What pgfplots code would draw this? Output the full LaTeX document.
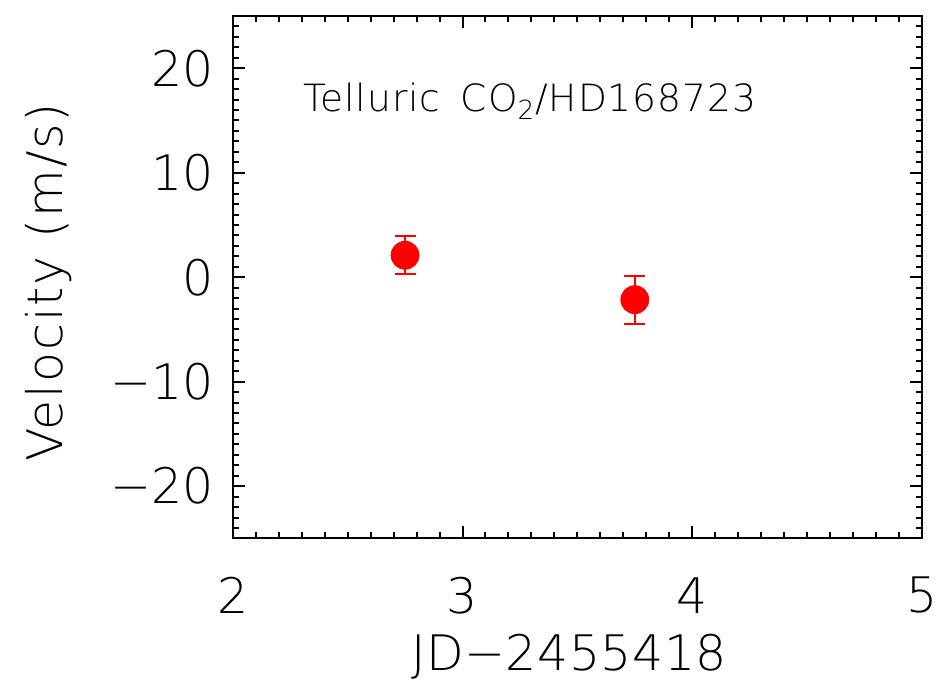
\documentclass[border=0pt]{standalone}
\usepackage{pgfplots}
\pgfplotsset{compat=1.18}
\usepackage{fontspec}
\setmainfont{DejaVu Sans ExtraLight}
\begin{document}
\begin{tikzpicture}
\begin{axis}[
  name=ax,
  scale only axis,
  width=345pt, height=261.5pt,
  xmin=2, xmax=5, ymin=-25, ymax=25,
  axis line style={line width=1pt},
  every tick/.style={black, line width=1pt},
  major tick length=6pt, minor tick length=3pt,
  tick align=inside,
  xtick={2,3,4,5}, xticklabels={2,3,4,5},
  ytick={-20,-10,0,10,20}, yticklabels={−20,−10,0,10,20},
  minor xtick={2.1,2.2,2.3,2.4,2.5,2.6,2.7,2.8,2.9,3.1,3.2,3.3,3.4,3.5,3.6,3.7,3.8,3.9,4.1,4.2,4.3,4.4,4.5,4.6,4.7,4.8,4.9},
  minor ytick={-24,-23,-22,-21,-19,-18,-17,-16,-15,-14,-13,-12,-11,-9,-8,-7,-6,-5,-4,-3,-2,-1,1,2,3,4,5,6,7,8,9,11,12,13,14,15,16,17,18,19,21,22,23,24},
  tick label style={font=\fontsize{24.5}{29}\selectfont},
  xticklabel style={anchor=center, yshift=-28.5pt},
  yticklabel style={anchor=east, inner sep=0pt, xshift=-9.5pt},
  xlabel={JD−2455418},
  ylabel={Velocity (m/s)},
  xlabel style={font=\fontsize{24.5}{29}\selectfont\addfontfeatures{LetterSpace=1},
    at={(axis description cs:0.488,0)}, anchor=base, yshift=-66.25pt},
  ylabel style={font=\fontsize{24.5}{29}\selectfont\addfontfeatures{LetterSpace=4},
    at={(axis description cs:-0.2464,0.49)}, anchor=base, rotate=0},
]
\addplot[only marks, mark=*, mark size=7pt, red, mark options={fill=red, draw=red},
  error bars/.cd, y dir=both, y explicit,
  error bar style={line width=1pt, red},
  error mark options={rotate=90, mark size=5.25pt, line width=1pt, red}]
  coordinates {
    (2.75,2.1) +- (0,1.8)
    (3.75,-2.15) +- (0,2.3)
  };
\node[anchor=base west, inner sep=0pt, font=\fontsize{18.8}{22}\selectfont\addfontfeatures{LetterSpace=2.5}]
  at (rel axis cs:0.1014,0.8163) {Telluric\hspace{0.2em} CO\textsubscript{2}/HD168723};
\end{axis}
\pgfresetboundingbox
\path[use as bounding box] ([shift={(-116.5pt,-73pt)}]ax.south west) rectangle ([shift={(9.5pt,8pt)}]ax.north east);
\end{tikzpicture}
\end{document}
